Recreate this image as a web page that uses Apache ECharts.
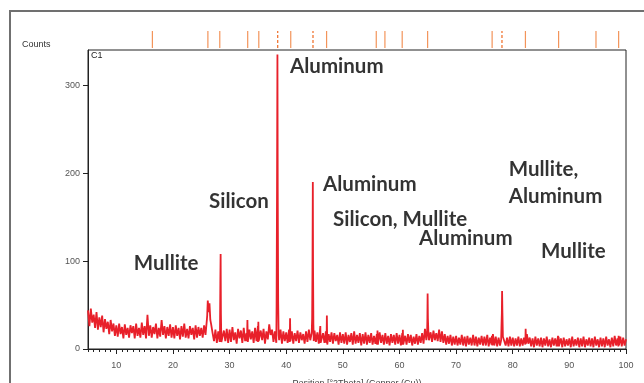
<!DOCTYPE html>
<html><head><meta charset="utf-8">
<script src="https://cdn.jsdelivr.net/npm/echarts@6/dist/echarts.min.js"></script>
<style>html,body{margin:0;padding:0;background:#fff}#c{width:644px;height:383px}</style>
</head><body><div id="c"></div>
<script>
// ---- data ----
const scanStart = 5;
const scanStep = 0.25;
const backgroundCounts = [
  44, 26, 46, 30, 39, 24, 42, 22, 36, 25, 38, 19, 34, 23, 31, 17, 33, 20, 29, 15,
  27, 14, 29, 17, 25, 12, 28, 16, 24, 13, 27, 18, 26, 12, 29, 15, 24, 13, 30, 16,
  26, 12, 39, 15, 27, 13, 25, 17, 29, 12, 24, 14, 33, 16, 26, 12, 25, 15, 28, 13,
  25, 12, 27, 15, 24, 11, 26, 14, 29, 13, 23, 12, 26, 16, 24, 11, 27, 13, 25, 15,
  24, 13, 27, 16, 34, 45, 40, 28, 18, 9, 22, 7, 20, 8, 24, 6, 21, 9, 23, 7,
  22, 8, 25, 10, 19, 6, 23, 12, 21, 7, 24, 9, 18, 6, 22, 11, 20, 7, 24, 9,
  26, 8, 21, 10, 23, 6, 20, 11, 28, 16, 22, 8, 20, 7, 19, 10, 22, 6, 20, 9,
  19, 7, 22, 10, 20, 6, 18, 9, 21, 7, 19, 10, 17, 6, 20, 8, 22, 10, 18, 7,
  21, 8, 19, 6, 23, 9, 18, 7, 20, 5, 17, 8, 19, 6, 18, 9, 16, 5, 19, 7,
  17, 6, 19, 5, 16, 8, 18, 5, 20, 6, 16, 7, 18, 4, 17, 6, 19, 5, 16, 7,
  18, 5, 15, 6, 17, 4, 19, 7, 16, 5, 18, 6, 15, 4, 17, 7, 16, 5, 18, 6,
  16, 4, 18, 6, 15, 5, 17, 7, 16, 4, 14, 6, 17, 5, 15, 7, 18, 6, 23, 10,
  24, 10, 19, 8, 21, 10, 18, 9, 22, 8, 20, 7, 17, 5, 15, 6, 16, 4, 14, 5,
  15, 4, 13, 5, 16, 4, 14, 3, 15, 5, 13, 4, 16, 4, 14, 3, 13, 5, 15, 4,
  14, 4, 16, 3, 13, 5, 17, 4, 14, 3, 13, 4, 22, 14, 15, 4, 13, 3, 14, 4,
  13, 3, 12, 4, 14, 3, 12, 4, 13, 3, 17, 6, 13, 3, 12, 2, 14, 4, 12, 3,
  13, 2, 12, 4, 14, 3, 11, 2, 13, 4, 12, 3, 15, 5, 12, 2, 13, 3, 11, 4,
  12, 2, 14, 3, 11, 4, 13, 2, 12, 3, 14, 2, 11, 4, 13, 3, 12, 2, 14, 4,
  11, 2, 13, 3, 12, 2, 14, 4, 11, 2, 13, 3, 15, 4, 12, 2, 14, 3, 13, 4,
  11
];
const peakProfiles = [
  [[26.05, 38], [26.15, 55], [26.3, 42], [26.45, 52], [26.6, 33]],
  [[28.3, 14], [28.37, 75], [28.42, 108], [28.47, 40], [28.55, 8]],
  [[33.08, 9], [33.15, 33], [33.22, 8]],
  [[35.02, 8], [35.08, 31], [35.14, 9]],
  [[38.3, 48], [38.38, 182], [38.45, 335], [38.5, 182], [38.58, 55], [38.66, 16]],
  [[40.62, 8], [40.68, 35], [40.74, 9]],
  [[44.58, 35], [44.64, 93], [44.7, 190], [44.74, 93], [44.8, 28], [44.86, 9]],
  [[45.95, 6], [46.02, 26], [46.08, 7]],
  [[47.12, 7], [47.18, 38], [47.24, 8]],
  [[56.06, 5], [56.12, 21], [56.18, 5]],
  [[60.55, 5], [60.6, 22], [60.66, 5]],
  [[64.88, 18], [64.93, 35], [64.97, 63], [65.02, 35], [65.1, 20], [65.2, 10]],
  [[76.28, 4], [76.33, 15], [76.4, 4]],
  [[77.95, 10], [78.03, 30], [78.08, 41], [78.12, 66], [78.18, 41], [78.26, 14]],
  [[82.22, 5], [82.28, 23], [82.35, 6]],
  [[88.05, 3], [88.1, 14], [88.16, 3]],
  [[98.65, 3], [98.7, 15], [98.76, 4]]
];
const refPeakPositions = [16.37, 26.17, 28.27, 33.2, 35.16, 38.5, 40.8, 44.73, 47.13, 55.9, 57.43, 60.48, 64.97, 76.36, 78.1, 82.24, 88.1, 94.7, 98.7];
const refPeakDashed = [38.5, 44.73, 78.1];
const xTickLabels = [10, 20, 30, 40, 50, 60, 70, 80, 90, 100];
const yTickLabels = [0, 100, 200, 300];
const annotationTexts = ['Aluminum', 'Silicon', 'Aluminum', 'Silicon, Mullite', 'Aluminum', 'Mullite,', 'Aluminum', 'Mullite', 'Mullite'];
const annotationTheta = [40.67, 26.37, 46.5, 48.26, 63.45, 79.3, 79.3, 85.0, 13.1];
const annotationCounts = [321.6, 168, 187.5, 147.7, 126, 204.5, 173.9, 111.4, 97.7];

// ---- build ----
const points = [];
backgroundCounts.forEach((c, i) => {
  const x = +(scanStart + i * scanStep).toFixed(2);
  const inside = peakProfiles.some(p => x > p[0][0] && x < p[p.length - 1][0]);
  if (!inside) points.push([x, c]);
});
peakProfiles.forEach(p => p.forEach(pt => points.push(pt)));
points.sort((a, b) => a[0] - b[0]);

const minorTicks = [];
for (let t = 5; t <= 100; t++) minorTicks.push(t);

const refSeries = refPeakPositions.map(x => ({
  type: 'line', xAxisIndex: 2, yAxisIndex: 1, symbol: 'none', silent: true,
  data: [[x, 0], [x, 1]],
  lineStyle: { width: 1.2, color: refPeakDashed.includes(x) ? '#ef6a22' : '#f3945a', type: refPeakDashed.includes(x) ? [3, 2] : 'solid' }
}));

const chart = echarts.init(document.getElementById('c'), null, { renderer: 'canvas' });
const axisFont = 'Liberation Sans';
chart.setOption({
  animation: false,
  backgroundColor: '#fff',
  grid: [
    { left: 88, top: 50, width: 538, height: 299, show: true, borderColor: '#222', borderWidth: 1, backgroundColor: 'transparent', containLabel: false, outerBoundsMode: 'none' },
    { left: 88, top: 31, width: 538, height: 17, outerBoundsMode: 'none' }
  ],
  xAxis: [
    { gridIndex: 0, type: 'value', min: 5, max: 100,
      axisLine: { lineStyle: { color: '#222', width: 1 } },
      axisTick: { customValues: xTickLabels, length: 5, lineStyle: { color: '#222' } },
      axisLabel: { customValues: xTickLabels, color: '#555', fontSize: 9, fontFamily: axisFont, margin: 12 },
      splitLine: { show: false },
      name: 'Position [°2Theta] (Copper (Cu))', nameLocation: 'middle', nameGap: 30,
      nameTextStyle: { color: '#444', fontSize: 9, fontFamily: axisFont } },
    { gridIndex: 0, type: 'value', min: 5, max: 100, position: 'bottom',
      axisLine: { show: false },
      axisTick: { customValues: minorTicks, length: 3, lineStyle: { color: '#222' } },
      axisLabel: { show: false }, splitLine: { show: false } },
    { gridIndex: 1, type: 'value', min: 5, max: 100, show: false }
  ],
  yAxis: [
    { gridIndex: 0, type: 'value', min: 0, max: 340,
      axisLine: { show: true, lineStyle: { color: '#222' } },
      axisTick: { show: true, customValues: yTickLabels, length: 5, lineStyle: { color: '#222' } },
      axisLabel: { customValues: yTickLabels, color: '#555', fontSize: 9, fontFamily: axisFont, margin: 8 },
      splitLine: { show: false } },
    { gridIndex: 1, type: 'value', min: 0, max: 1, show: false }
  ],
  series: [
    { type: 'line', xAxisIndex: 0, yAxisIndex: 0, data: points, symbol: 'none', sampling: false,
      lineStyle: { color: '#e8202a', width: 1.8, join: 'miter', miterLimit: 3 }, z: 3 },
    ...refSeries,
    { type: 'scatter', xAxisIndex: 0, yAxisIndex: 0, symbolSize: 0, z: 10,
      data: annotationTexts.map((t, i) => ({ value: [annotationTheta[i], annotationCounts[i]], name: t })),
      label: { show: true, position: 'right', distance: 0, formatter: p => p.name,
        fontFamily: 'Lato', fontWeight: 'bold', fontSize: 20.5, color: '#000' } }
  ],
  graphic: [
    { type: 'polyline', shape: { points: [[10, 383], [10, 11], [644, 11]] }, style: { stroke: '#707070', lineWidth: 2, fill: null } },
    { type: 'text', left: 22, top: 40, style: { text: 'Counts', fontSize: 9, fontFamily: axisFont, fill: '#333' } },
    { type: 'text', left: 91, top: 51, style: { text: 'C1', fontSize: 9, fontFamily: axisFont, fill: '#222' } }
  ]
});
</script>
</body></html>
